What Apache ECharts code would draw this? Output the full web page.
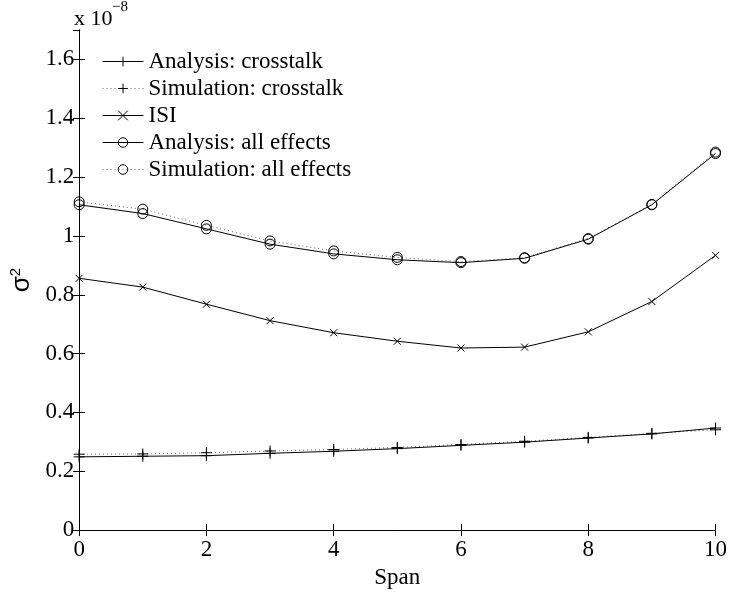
<!DOCTYPE html>
<html>
<head>
<meta charset="utf-8">
<script src="https://cdn.jsdelivr.net/npm/echarts@6/dist/echarts.min.js"></script>
<style>
  html, body { margin: 0; padding: 0; background: #fff; }
  #chart { width: 730px; height: 594px; }
</style>
</head>
<body>
<div id="chart"></div>
<script>
// Noise variance (in units of 1e-8) versus span index
const spans = [0, 1, 2, 3, 4, 5, 6, 7, 8, 9, 10];
const crosstalkAnalysis = [0.249, 0.251, 0.253, 0.261, 0.268, 0.277, 0.288, 0.299, 0.313, 0.327, 0.347];
const crosstalkSimulation = [0.258, 0.259, 0.263, 0.269, 0.274, 0.281, 0.291, 0.302, 0.315, 0.329, 0.341];
const isi = [0.856, 0.826, 0.768, 0.712, 0.671, 0.642, 0.619, 0.622, 0.674, 0.777, 0.934];
const allAnalysis = [1.106, 1.076, 1.024, 0.972, 0.939, 0.919, 0.909, 0.924, 0.989, 1.106, 1.280];
const allSimulation = [1.116, 1.091, 1.036, 0.983, 0.949, 0.927, 0.913, 0.926, 0.991, 1.107, 1.285];

const seriesNames = [
  'Analysis: crosstalk',
  'Simulation: crosstalk',
  'ISI',
  'Analysis: all effects',
  'Simulation: all effects'
];

const serif = 'Liberation Serif, Times New Roman, serif';
const sans = 'Liberation Sans, Arial, sans-serif';
const PLUS = 'path://M0,5L10,5M5,0L5,10';
const CROSS = 'path://M0,0L10,10M10,0L0,10';

function pairs(values) {
  return spans.map((s, i) => [s, values[i]]);
}

function makeSeries(name, values, symbol, size, dotted) {
  return {
    name: name,
    type: 'line',
    data: pairs(values),
    symbol: symbol,
    symbolSize: size,
    showSymbol: true,
    clip: false,
    lineStyle: {
      color: dotted ? '#666' : '#000',
      width: 1,
      type: dotted ? [1, 3] : 'solid'
    },
    itemStyle: {
      color: 'rgba(0,0,0,0)',
      borderColor: '#000',
      borderWidth: 1
    },
    emphasis: { disabled: true },
    z: dotted ? 2 : 3
  };
}

const chart = echarts.init(document.getElementById('chart'), null, { renderer: 'canvas' });

const axisCommon = {
  axisLine: { show: true, lineStyle: { color: '#000', width: 1 } },
  axisTick: { show: true, inside: true, length: 6, lineStyle: { color: '#000', width: 1 } },
  splitLine: { show: false }
};

chart.setOption({
  animation: false,
  backgroundColor: '#fff',
  grid: { left: 74, right: 11, top: 30, bottom: 54, containLabel: false },
  legend: {
    orient: 'vertical',
    left: 97,
    top: 45,
    itemWidth: 41,
    itemHeight: 12,
    itemGap: 4,
    data: seriesNames,
    textStyle: { fontFamily: serif, fontSize: 23, color: '#000' },
    itemStyle: { borderWidth: 1, borderColor: '#000' },
    lineStyle: { width: 1 },
    selectedMode: false
  },
  xAxis: [
    Object.assign({
      type: 'value',
      min: 0, max: 10, interval: 2,
      position: 'bottom',
      name: 'Span',
      nameLocation: 'middle',
      nameGap: 28,
      nameTextStyle: { fontFamily: serif, fontSize: 23, color: '#000' },
      axisLabel: { fontFamily: serif, fontSize: 23, color: '#000', margin: 8 }
    }, axisCommon),
    Object.assign({
      type: 'value',
      min: 0, max: 10, interval: 2,
      position: 'top',
      axisLabel: { show: false }
    }, axisCommon)
  ],
  yAxis: [
    Object.assign({
      type: 'value',
      min: 0, max: 1.7, interval: 0.2,
      position: 'left',
      name: '{s|σ}{p|2}',
      nameLocation: 'middle',
      nameRotate: 90,
      nameGap: 44,
      nameTextStyle: {
        rich: {
          s: { fontFamily: sans, fontSize: 26, color: '#000' },
          p: { fontFamily: sans, fontSize: 15, color: '#000', verticalAlign: 'top', padding: [0, 0, 12, 0] }
        }
      },
      axisLabel: {
        fontFamily: serif, fontSize: 23, color: '#000', margin: 5,
        showMaxLabel: false,
        formatter: function (v) { return v > 1.65 ? '' : String(Math.round(v * 10) / 10); }
      }
    }, axisCommon),
    Object.assign({
      type: 'value',
      min: 0, max: 1.7, interval: 0.2,
      position: 'right',
      axisLabel: { show: false }
    }, axisCommon)
  ],
  graphic: [
    {
      type: 'text', left: 74, top: 8,
      style: { text: 'x 10', fontFamily: serif, fontSize: 22, fill: '#000' }
    },
    {
      type: 'text', left: 112, top: 0,
      style: { text: '\u22128', fontFamily: serif, fontSize: 15, fill: '#000' }
    }
  ],
  series: [
    makeSeries(seriesNames[0], crosstalkAnalysis, PLUS, 11, false),
    makeSeries(seriesNames[1], crosstalkSimulation, PLUS, 11, true),
    makeSeries(seriesNames[2], isi, CROSS, 7, false),
    makeSeries(seriesNames[3], allAnalysis, 'circle', 10, false),
    makeSeries(seriesNames[4], allSimulation, 'circle', 10, true)
  ]
});
</script>
</body>
</html>
